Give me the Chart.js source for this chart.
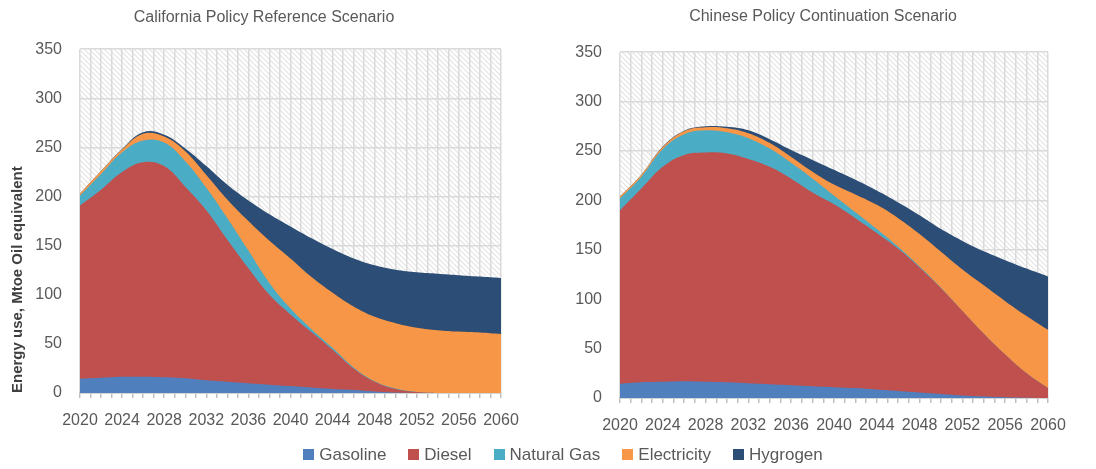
<!DOCTYPE html>
<html>
<head>
<meta charset="utf-8">
<script src="https://cdn.jsdelivr.net/npm/chart.js@4.4.1/dist/chart.umd.min.js"></script>
<style>
  body { margin: 0; background: #fff; width: 1096px; height: 469px; overflow: hidden; position: relative; font-family: "Liberation Sans", Arial, sans-serif; }
  #left { position: absolute; left: 0; top: 0; }
  #right { position: absolute; left: 540px; top: 0; }
  #legend { position: absolute; left: 0; top: 444px; width: 1126px; text-align: center; font-size: 17px; line-height: 22px; color: #595959; white-space: nowrap; }
  #legend span { display: inline-block; margin: 0 11px; }
  #legend i { display: inline-block; width: 11px; height: 11px; margin-right: 5px; vertical-align: 0px; }
</style>
</head>
<body>
<canvas id="left" width="540" height="440"></canvas>
<canvas id="right" width="556" height="445"></canvas>
<div id="legend"></div>

<script>
// years every 2 years, labels every 4
const years = [2020, 2022, 2024, 2026, 2028, 2030, 2032, 2034, 2036, 2038, 2040,
               2042, 2044, 2046, 2048, 2050, 2052, 2054, 2056, 2058, 2060];
const labelYears = [2020, 2024, 2028, 2032, 2036, 2040, 2044, 2048, 2052, 2056, 2060];

const seriesNames = ['Gasoline', 'Diesel', 'Natural Gas', 'Electricity', 'Hygrogen'];
const seriesColors = ['#4f7fbd', '#c0504d', '#4bacc6', '#f79646', '#2c4d75'];

// California Policy Reference Scenario (Mtoe)
const caGasoline    = [14.5, 15.5, 16.5, 16.5, 16, 15, 13, 11.5, 10, 8.5, 7, 5.5, 4, 3, 1.5, 0.5, 0, 0, 0, 0, 0];
const caDiesel      = [176.5, 191.5, 208.5, 218.5, 215, 195, 173, 144.5, 117, 91.5, 73, 56.5, 40, 22, 10, 3.5, 1, 0, 0, 0, 0];
const caNaturalGas  = [10, 16, 20, 22, 24, 26, 23, 22, 18, 12, 6, 3, 2, 1, 0.5, 0.5, 0, 0, 0, 0, 0];
const caElectricity = [2, 3, 3, 7, 6, 10, 13, 19, 30, 43, 51, 53, 56, 62, 65.5, 66.5, 65.5, 64, 62.5, 61.5, 60];
const caHydrogen    = [0, 0, 0.5, 1.5, 2, 3, 9, 15, 21, 27, 32.5, 39.5, 44.5, 49, 52.5, 54.5, 56.5, 57.5, 57.5, 57, 57];

// Chinese Policy Continuation Scenario (Mtoe)
const cnGasoline    = [14.5, 16, 16.5, 17, 16.5, 16, 15, 14, 13, 12, 11, 10, 8.5, 7, 5.5, 4, 2.5, 1.5, 0.8, 0.3, 0];
const cnDiesel      = [175.5, 196, 217.5, 229, 232, 231.5, 227, 220, 209, 196, 185, 172, 158.5, 144, 126.5, 107, 85.5, 63.5, 43.2, 24.7, 10];
const cnNaturalGas  = [12, 12, 18, 21, 22.5, 21.5, 21, 18.5, 16, 14, 9, 6, 4, 2, 1, 0.5, 0, 0, 0, 0, 0];
const cnElectricity = [2, 2, 2, 3, 3, 4, 5, 5.5, 6, 7, 11, 18, 24.5, 29, 33, 36.5, 42, 49, 54, 58, 59];
const cnHydrogen    = [0, 0, 0.5, 0.5, 1, 1.5, 3, 4, 7, 12, 15, 15, 14.5, 16, 19, 23, 29, 34.5, 41.5, 48, 54];

const textColor = '#595959';
const gridColor = '#dadada';

// hatched plot background
const hatch = document.createElement('canvas');
hatch.width = 5; hatch.height = 5;
const hg = hatch.getContext('2d');
hg.strokeStyle = '#e2e2e2';
hg.lineWidth = 1.1;
hg.beginPath();
hg.moveTo(-1, -1); hg.lineTo(6, 6);
hg.moveTo(-1, 4); hg.lineTo(1, 6);
hg.moveTo(4, -1); hg.lineTo(6, 1);
hg.stroke();

const hatchPlugin = {
    id: 'hatch',
    beforeDraw(chart) {
        const a = chart.chartArea;
        const ctx = chart.ctx;
        ctx.save();
        ctx.fillStyle = ctx.createPattern(hatch, 'repeat');
        ctx.fillRect(a.left, a.top, a.right - a.left, a.bottom - a.top);
        ctx.restore();
    }
};

function toPoints(vals) {
    return vals.map((v, i) => ({ x: years[i], y: v }));
}

function makeChart(id, title, series, opt) {
    const ctx = document.getElementById(id).getContext('2d');
    return new Chart(ctx, {
        type: 'line',
        data: {
            datasets: series.map((vals, i) => ({
                label: seriesNames[i],
                data: toPoints(vals),
                backgroundColor: seriesColors[i],
                borderColor: seriesColors[i],
                borderWidth: 0,
                pointRadius: 0,
                fill: 'origin',
                tension: 0.4
            }))
        },
        options: {
            responsive: false,
            animation: false,
            layout: { padding: { left: opt.padLeft, right: opt.padRight, top: 0, bottom: 0 } },
            plugins: {
                legend: { display: false },
                tooltip: { enabled: false },
                title: {
                    display: true,
                    text: title,
                    color: textColor,
                    font: { family: 'Liberation Sans', size: 16, weight: 'normal' },
                    padding: { top: opt.titleTop, bottom: opt.titleBottom }
                }
            },
            scales: {
                x: {
                    type: 'linear',
                    min: 2020,
                    max: 2060,
                    afterFit: s => { s.height = 47; },
                    grid: { color: gridColor, lineWidth: 1.5, tickLength: 5, tickColor: '#bfbfbf' },
                    border: { color: '#bfbfbf', width: 1.5 },
                    ticks: {
                        stepSize: 1,
                        autoSkip: false,
                        maxRotation: 0,
                        minRotation: 0,
                        padding: 13,
                        color: textColor,
                        font: { family: 'Liberation Sans', size: 16 },
                        callback: v => labelYears.includes(v) ? String(v) : ''
                    }
                },
                y: {
                    stacked: true,
                    min: 0,
                    max: 350,
                    afterFit: s => { s.width = opt.yWidth; },
                    grid: { color: gridColor, lineWidth: 1.5, drawTicks: false },
                    border: { display: false },
                    ticks: {
                        stepSize: 50,
                        padding: 18,
                        color: textColor,
                        font: { family: 'Liberation Sans', size: 16 }
                    },
                    title: {
                        display: !!opt.yTitle,
                        text: opt.yTitle || '',
                        align: 'start',
                        color: '#404040',
                        font: { family: 'Liberation Sans', size: 15, weight: 'bold' },
                        padding: { top: 9, bottom: 0 }
                    }
                },
                yRight: {
                    position: 'right',
                    afterFit: s => { s.width = opt.rightWidth; },
                    grid: { display: false },
                    border: { display: false },
                    ticks: { display: false }
                }
            }
        },
        plugins: [hatchPlugin]
    });
}

makeChart('left', 'California Policy Reference Scenario',
    [caGasoline, caDiesel, caNaturalGas, caElectricity, caHydrogen],
    { padLeft: 0, padRight: 12, yWidth: 80, rightWidth: 27, titleTop: 8, titleBottom: 22,
      yTitle: 'Energy use, Mtoe Oil equivalent' });

makeChart('right', 'Chinese Policy Continuation Scenario',
    [cnGasoline, cnDiesel, cnNaturalGas, cnElectricity, cnHydrogen],
    { padLeft: 10, padRight: 0, yWidth: 70, rightWidth: 48, titleTop: 7, titleBottom: 26 });

// shared legend
const legend = document.getElementById('legend');
seriesNames.forEach((name, i) => {
    const item = document.createElement('span');
    const box = document.createElement('i');
    box.style.background = seriesColors[i];
    item.appendChild(box);
    item.appendChild(document.createTextNode(name));
    legend.appendChild(item);
});
</script>
</body>
</html>
